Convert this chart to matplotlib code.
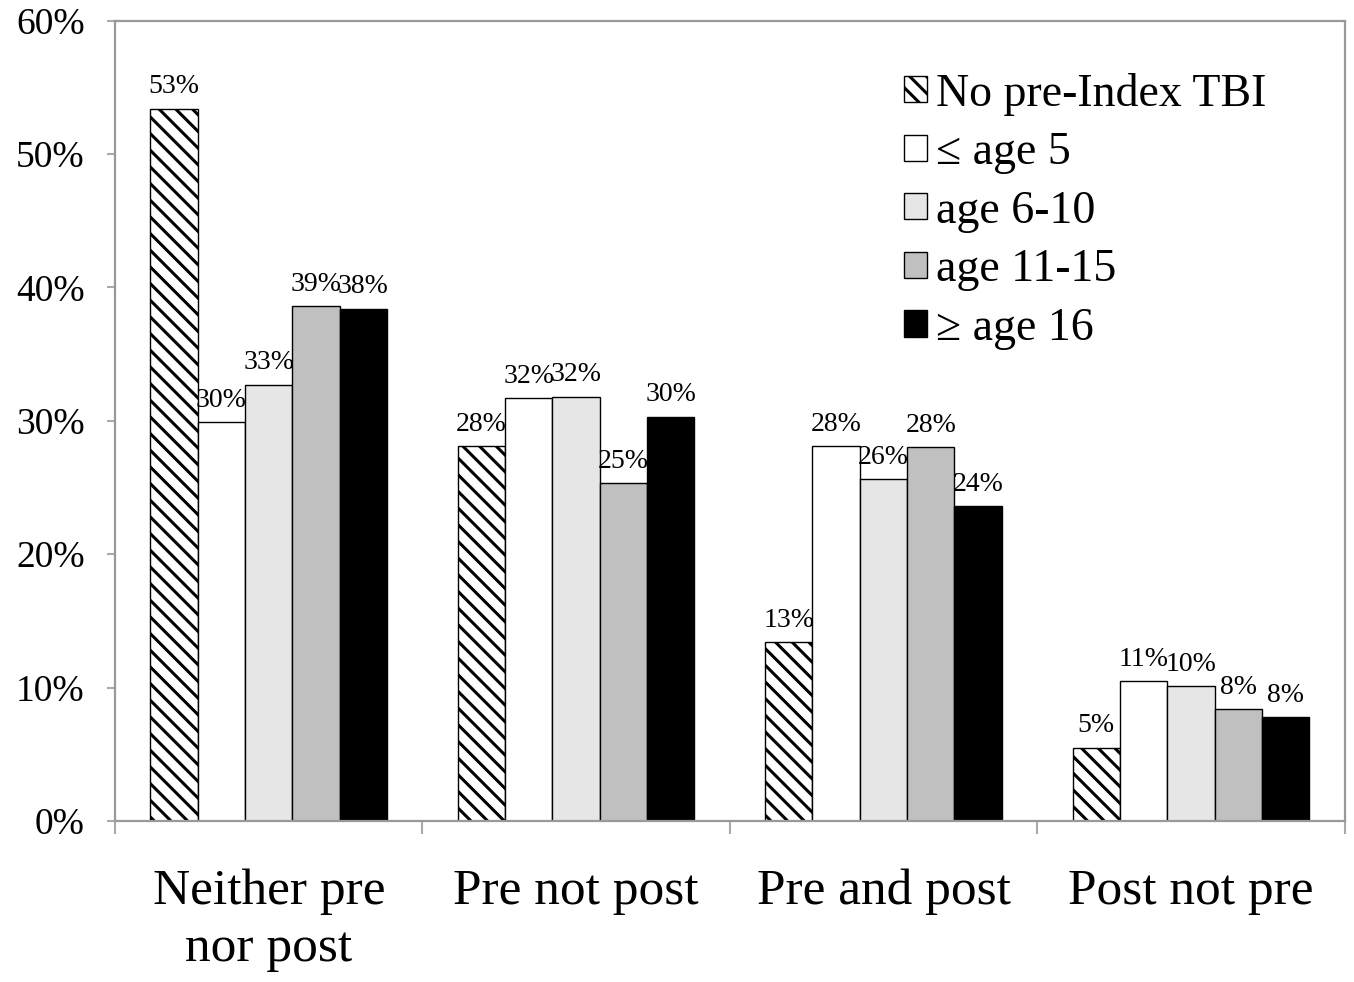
import matplotlib.pyplot as plt
import numpy as np

plt.rcParams['font.family'] = ['Liberation Serif', 'DejaVu Serif']
plt.rcParams['hatch.linewidth'] = 2.2

categories = ['Neither pre\nnor post', 'Pre not post', 'Pre and post', 'Post not pre']
series = ['No pre-Index TBI', '\u2264 age 5', 'age 6-10', 'age 11-15', '\u2265 age 16']
values = [
    [53.4, 28.1, 13.4, 5.5],
    [29.9, 31.7, 28.1, 10.5],
    [32.7, 31.8, 25.6, 10.1],
    [38.6, 25.3, 28.0, 8.4],
    [38.4, 30.3, 23.6, 7.8],
]
labels = [
    ['53%', '28%', '13%', '5%'],
    ['30%', '32%', '28%', '11%'],
    ['33%', '32%', '26%', '10%'],
    ['39%', '25%', '28%', '8%'],
    ['38%', '30%', '24%', '8%'],
]
colors = ['white', 'white', '#e6e6e6', '#c0c0c0', 'black']
hatches = ['\\\\', None, None, None, None]

fig = plt.figure(figsize=(13.54, 9.82), dpi=100)
ax = fig.add_axes([0.085, 0.164, 0.908, 0.815])

x = np.arange(len(categories))
w = 0.154
for i in range(len(series)):
    pos = x + (i - 2) * w
    bars = ax.bar(pos, values[i], w, color=colors[i], edgecolor='black',
                  linewidth=1.0, hatch=hatches[i], label=series[i])
    for b, v, t in zip(pos, values[i], labels[i]):
        ax.text(b, v + 0.7, t, ha='center', va='bottom', fontsize=20)

ax.set_xlim(-0.5, 3.5)
ax.set_ylim(0, 60)
ax.set_yticks(np.arange(0, 61, 10))
ax.set_yticklabels([str(v) + '%' for v in range(0, 61, 10)], fontsize=27)
ax.set_xticks(np.arange(-0.5, 3.6, 1))
ax.set_xticklabels([])
ax.set_xticks(x, minor=True)
ax.set_xticklabels(categories, minor=True, fontsize=37, linespacing=1.3)
ax.tick_params(axis='x', which='minor', length=0, pad=34)
ax.tick_params(axis='x', which='major', length=9, width=1.5, color='#aaaaaa', direction='out')
ax.tick_params(axis='y', length=6, width=1.5, color='#aaaaaa', pad=16)
for s in ax.spines.values():
    s.set_color('#999999')
    s.set_linewidth(1.6)

leg = ax.legend(loc='upper left', bbox_to_anchor=(0.627, 0.958), frameon=False,
                fontsize=33, handlelength=0.5, handleheight=0.5,
                handletextpad=0.2, labelspacing=0.35, borderaxespad=0)

fig.savefig('out.png', dpi=100)
